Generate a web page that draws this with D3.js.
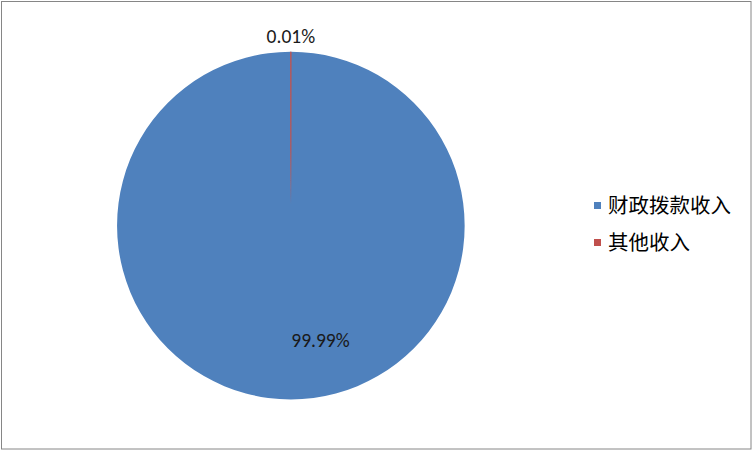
<!DOCTYPE html>
<html>
<head>
<meta charset="utf-8">
<script src="https://cdn.jsdelivr.net/npm/d3@7"></script>
<style>
html,body{margin:0;padding:0;background:#fff;}
svg{display:block;}
</style>
</head>
<body>
<svg id="chart" width="753" height="451"></svg>
<script>
const categories = ["财政拨款收入", "其他收入"];
const values = [99.99, 0.01];
const labels = ["99.99%", "0.01%"];
const colors = ["#4F81BD", "#C0504D"];

const svg = d3.select("#chart");
const W = 753, H = 451;

svg.append("rect")
  .attr("x", 1.5).attr("y", 1.5)
  .attr("width", W - 3.5).attr("height", H - 3.5)
  .attr("fill", "#fff").attr("stroke", "#868686").attr("stroke-width", 1);

const cx = 290.8, cy = 225.6, R = 173.8;

// fading stroke for the hair-thin slice (anti-aliasing look)
const defs = svg.append("defs");
const grad = defs.append("linearGradient").attr("id", "fade")
  .attr("gradientUnits", "userSpaceOnUse")
  .attr("x1", 0).attr("y1", -R).attr("x2", 0).attr("y2", 0);
grad.append("stop").attr("offset", "0").attr("stop-color", colors[1]).attr("stop-opacity", 1);
grad.append("stop").attr("offset", "0.55").attr("stop-color", colors[1]).attr("stop-opacity", 0.8);
grad.append("stop").attr("offset", "0.88").attr("stop-color", colors[1]).attr("stop-opacity", 0);

const g = svg.append("g").attr("transform", `translate(${cx},${cy})`);

const data = categories.map((c, i) => ({ name: c, value: values[i], label: labels[i], color: colors[i] }));

const total = d3.sum(values);
const pie = d3.pie().value(d => d.value).sort(null)
  .startAngle(-2 * Math.PI * values[0] / total)
  .endAngle(2 * Math.PI - 2 * Math.PI * values[0] / total);
const arcs = pie(data);
const arc = d3.arc().innerRadius(0).outerRadius(R);

g.selectAll("path.slice").data(arcs).join("path")
  .attr("class", "slice")
  .attr("d", arc)
  .attr("fill", d => d.data.color)
  .attr("stroke", (d, i) => i === 1 ? "url(#fade)" : "none")
  .attr("stroke-width", 0.9);

const fontNum = "Carlito, Calibri, 'Liberation Sans', sans-serif";
// big slice label (inside)
g.append("text")
  .attr("x", 29.7).attr("y", 121.4)
  .attr("text-anchor", "middle")
  .attr("font-family", fontNum).attr("font-size", 19.5)
  .attr("fill", "#1a1a1a")
  .text(arcs[0].data.label);
// small slice label (outside, above)
const a1 = (arcs[1].startAngle + arcs[1].endAngle) / 2;
const lr = R + 8.8;
g.append("text")
  .attr("x", Math.sin(a1) * lr).attr("y", -Math.cos(a1) * lr)
  .attr("text-anchor", "middle")
  .attr("font-family", fontNum).attr("font-size", 19.5)
  .attr("fill", "#1a1a1a")
  .text(arcs[1].data.label);

// legend
const lg = svg.append("g").attr("transform", "translate(594,205.5)");
const items = lg.selectAll("g").data(data).join("g")
  .attr("transform", (d, i) => `translate(0,${i * 37})`);
items.append("rect")
  .attr("x", 0).attr("y", -3.5).attr("width", 7).attr("height", 7)
  .attr("fill", d => d.color);
items.append("text")
  .attr("x", 14).attr("y", 7)
  .attr("font-family", "'Noto Sans CJK SC', sans-serif")
  .attr("font-size", 20.5)
  .attr("fill", "#000")
  .text(d => d.name);
</script>
</body>
</html>
